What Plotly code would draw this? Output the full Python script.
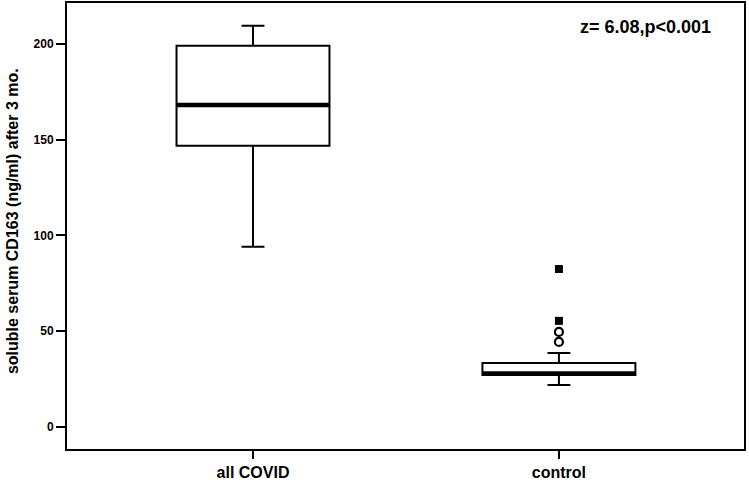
import plotly.graph_objects as go

categories = ["all COVID", "control"]
q1 = [146.8, 27.0]
median = [168.2, 27.8]
q3 = [199.1, 33.3]
lower_whisker = [94.0, 21.8]
upper_whisker = [209.6, 38.5]
outlier_cat = [1, 1]
outlier_vals = [44.3, 49.5]
extreme_cat = [1, 1]
extreme_vals = [55.3, 82.4]
y_ticks = [0, 50, 100, 150, 200]
annotation_text = "z= 6.08,p<0.001"
y_title = "soluble serum CD163 (ng/ml) after 3 mo."

positions = list(range(len(categories)))
box_w = 0.5

fig = go.Figure()
fig.add_trace(go.Box(
    x=positions, q1=q1, median=median, q3=q3,
    lowerfence=lower_whisker, upperfence=upper_whisker,
    width=box_w, whiskerwidth=0.15, boxpoints=False,
    fillcolor="white", line=dict(color="black", width=2),
    showlegend=False, hoverinfo="skip",
))
for i, m in enumerate(median):
    fig.add_trace(go.Scatter(
        x=[positions[i] - box_w / 2, positions[i] + box_w / 2], y=[m, m],
        mode="lines", line=dict(color="black", width=4.5),
        showlegend=False, hoverinfo="skip",
    ))
fig.add_trace(go.Scatter(
    x=outlier_cat, y=outlier_vals, mode="markers",
    marker=dict(symbol="circle-open", size=8, color="black", line=dict(width=2.2)),
    showlegend=False,
))
fig.add_trace(go.Scatter(
    x=extreme_cat, y=extreme_vals, mode="markers",
    marker=dict(symbol="square", size=8, color="black"),
    showlegend=False,
))

fig.update_layout(
    width=749, height=482,
    margin=dict(l=67, r=5, t=3, b=33, autoexpand=False),
    paper_bgcolor="white", plot_bgcolor="white",
    font=dict(family="Liberation Sans, Arial, sans-serif", color="black"),
    xaxis=dict(
        range=[-0.608, 1.605], tickvals=positions, ticktext=["<b>%s</b>" % c for c in categories],
        tickfont=dict(size=16), ticks="outside", ticklen=8, tickwidth=2, tickcolor="black",
        showline=True, linecolor="black", linewidth=2, mirror=True,
        showgrid=False, zeroline=False, automargin=False,
    ),
    yaxis=dict(
        range=[-11.7, 221.5], tickvals=y_ticks, ticktext=["<b>%d</b>" % v for v in y_ticks],
        tickfont=dict(size=12), ticks="outside", ticklen=9, tickwidth=2, tickcolor="black",
        showline=True, linecolor="black", linewidth=2, mirror=True,
        showgrid=False, zeroline=False, automargin=False,
    ),
    annotations=[
        dict(
            text="<b>%s</b>" % annotation_text, xref="paper", yref="paper",
            x=0.854, y=0.946, xanchor="center", yanchor="middle", showarrow=False,
            font=dict(size=18, color="black"),
        ),
        dict(
            text="<b>%s</b>" % y_title, xref="paper", yref="paper",
            x=-0.0812, y=0.511, xanchor="center", yanchor="middle", showarrow=False,
            textangle=-90, font=dict(size=16, color="black"),
        ),
    ],
)

fig.write_html(
    "out.html",
    config={"displayModeBar": False},
    post_script="document.body.style.margin='0';document.body.style.overflow='hidden';",
)
